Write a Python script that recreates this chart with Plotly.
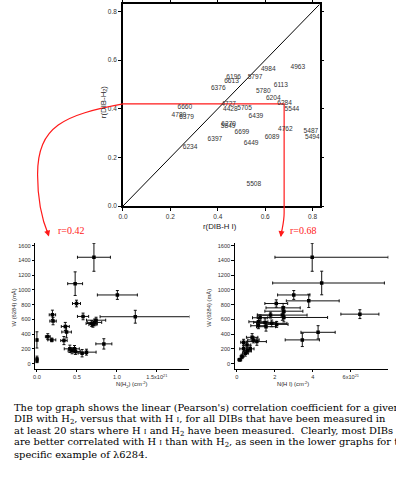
import plotly.graph_objects as go

W, H = 396, 491

# ---------------- data ----------------
dib_labels = ["4963", "4984", "6196", "5797", "6613", "6376", "6113", "5780", "6204", "6284",
              "5544", "6660", "4727", "4428", "5705", "4780", "6379", "6439", "6270", "5849",
              "6699", "4762", "5487", "5494", "6397", "6089", "6449", "6234", "5508"]
r_hi = [0.738, 0.613, 0.467, 0.557, 0.458, 0.402, 0.666, 0.592, 0.634, 0.682,
        0.713, 0.261, 0.446, 0.453, 0.513, 0.236, 0.268, 0.561, 0.446, 0.444,
        0.502, 0.685, 0.793, 0.799, 0.388, 0.629, 0.541, 0.283, 0.552]
r_h2 = [0.572, 0.564, 0.531, 0.531, 0.511, 0.486, 0.495, 0.470, 0.441, 0.421,
        0.397, 0.406, 0.418, 0.397, 0.401, 0.373, 0.365, 0.368, 0.335, 0.327,
        0.304, 0.316, 0.308, 0.283, 0.275, 0.283, 0.258, 0.243, 0.091]
example_r_hi = 0.68
example_r_h2 = 0.42

# lambda 6284 vs N(H2) [1e21 cm^-2], W [mA]
nh2 = [0.713, 0.478, 1.006, 0.495, 0.194, 0.202, 0.577, 1.23, 0.837, 0.685,
       0.72, 0.74, 0.70, 0.355, 0.371, 0.338, 0.136, 0.186, 0.0, 0.0,
       0.0, 0.412, 0.44, 0.47, 0.482, 0.565, 0.62]
nh2_err_plus = [0.206, 0.093, 0.25, 0.05, 0.04, 0.04, 0.07, 0.68, 0.10, 0.07,
                0.09, 0.12, 0.05, 0.05, 0.06, 0.04, 0.03, 0.05, 0.0, 0.0,
                0.0, 0.07, 0.05, 0.06, 0.06, 0.05, 0.12]
nh2_err_minus = [0.206, 0.093, 0.25, 0.05, 0.04, 0.04, 0.07, 0.44, 0.10, 0.07,
                 0.09, 0.12, 0.05, 0.05, 0.06, 0.04, 0.03, 0.05, 0.0, 0.0,
                 0.0, 0.07, 0.05, 0.06, 0.06, 0.05, 0.12]
w_h2 = [1443, 1085, 932, 816, 663, 578, 641, 637, 269, 545,
        560, 590, 530, 505, 430, 314, 367, 323, 323, 63,
        45, 202, 175, 202, 166, 143, 157]
w_h2_err = [190, 160, 60, 45, 63, 50, 45, 87, 70, 40,
            45, 40, 35, 55, 80, 55, 40, 25, 110, 40,
            30, 50, 40, 45, 40, 50, 40]

# lambda 6284 vs N(H I) [1e21 cm^-2], W [mA]
nhi = [3.97, 4.47, 3.0, 3.79, 6.48, 4.28, 3.45, 2.08, 2.44, 2.48,
       2.4, 2.48, 1.78, 1.23, 1.14, 1.49, 1.84, 2.1, 1.14, 1.54,
       0.81, 0.88, 1.06, 0.36, 0.54, 0.36, 0.57, 0.45, 0.71, 0.28, 0.16]
nhi_err_plus = [4.0, 3.3, 0.85, 1.6, 1.0, 0.9, 0.9, 0.6, 0.9, 1.0,
                1.3, 2.3, 0.7, 0.4, 0.5, 0.6, 0.8, 0.6, 0.4, 0.5,
                0.3, 0.3, 0.5, 0.15, 0.2, 0.2, 0.2, 0.15, 0.2, 0.1, 0.1]
nhi_err_minus = [1.96, 2.58, 0.85, 1.18, 1.0, 0.9, 0.9, 0.6, 0.9, 1.0,
                 1.3, 1.4, 0.7, 0.4, 0.5, 0.6, 0.8, 0.6, 0.4, 0.5,
                 0.3, 0.3, 0.5, 0.15, 0.2, 0.2, 0.2, 0.15, 0.2, 0.1, 0.1]
w_hi = [1443, 1094, 932, 852, 672, 426, 323, 816, 757, 712,
        659, 627, 659, 623, 569, 560, 547, 533, 515, 502,
        358, 323, 300, 291, 255, 202, 175, 143, 202, 99, 54]
w_hi_err = [190, 160, 60, 90, 60, 90, 90, 50, 60, 60,
            70, 60, 40, 40, 45, 50, 45, 40, 40, 60,
            50, 40, 50, 40, 40, 40, 40, 40, 40, 30, 20]

# ---------------- geometry (pixels) ----------------
TOP_X = (119.5, 318.7)
TOP_Y = (3.3, 206.7)
TOP_RANGE = [0, 0.83]
LL_X = (30.7, 186.7)
LR_X = (232.7, 388.3)
LOW_Y = (244.0, 370.7)
LL_XRANGE = [-0.02, 1.906]
LR_XRANGE = [-0.104, 7.98]
LOW_YRANGE = [-67, 1636]


def px(x):
    return x / W


def py(y):
    return 1 - y / H


def top_px(vx, vy):
    x = TOP_X[0] + (vx - TOP_RANGE[0]) / (TOP_RANGE[1] - TOP_RANGE[0]) * (TOP_X[1] - TOP_X[0])
    y = TOP_Y[1] - (vy - TOP_RANGE[0]) / (TOP_RANGE[1] - TOP_RANGE[0]) * (TOP_Y[1] - TOP_Y[0])
    return x, y


fig = go.Figure()

# top panel
fig.add_trace(go.Scatter(x=TOP_RANGE, y=TOP_RANGE, mode="lines",
                         line=dict(color="black", width=1), xaxis="x", yaxis="y",
                         hoverinfo="skip"))
fig.add_trace(go.Scatter(x=[0, example_r_hi, example_r_hi], y=[example_r_h2, example_r_h2, 0],
                         mode="lines", line=dict(color="#ff1a1a", width=1.2),
                         xaxis="x", yaxis="y", hoverinfo="skip"))
fig.add_trace(go.Scatter(x=r_hi, y=r_h2, mode="text", text=dib_labels,
                         textposition="middle center",
                         textfont=dict(family="Liberation Sans", size=6.6, color="#333333"),
                         xaxis="x", yaxis="y"))

err_style = dict(color="#111111", thickness=1, width=1.5)
fig.add_trace(go.Scatter(x=nh2, y=w_h2, mode="markers",
                         marker=dict(symbol="square", size=3.5, color="black"),
                         error_x=dict(type="data", array=nh2_err_plus, arrayminus=nh2_err_minus,
                                      symmetric=False, **err_style),
                         error_y=dict(type="data", array=w_h2_err, **err_style),
                         xaxis="x2", yaxis="y2"))
fig.add_trace(go.Scatter(x=nhi, y=w_hi, mode="markers",
                         marker=dict(symbol="square", size=3.5, color="black"),
                         error_x=dict(type="data", array=nhi_err_plus, arrayminus=nhi_err_minus,
                                      symmetric=False, **err_style),
                         error_y=dict(type="data", array=w_hi_err, **err_style),
                         xaxis="x3", yaxis="y3"))

tickfont_top = dict(family="Liberation Sans", size=6.5, color="#333333")
tickfont_low = dict(family="Liberation Sans", size=5.6, color="#333333")
top_ticks = [0, 0.2, 0.4, 0.6, 0.8]
top_common = dict(range=TOP_RANGE, showline=True, linewidth=1.6, linecolor="black",
                  mirror="allticks", ticks="outside", ticklen=3, tickwidth=1, tickcolor="black",
                  tickvals=top_ticks, ticktext=["0.0", "0.2", "0.4", "0.6", "0.8"],
                  tickfont=tickfont_top, showgrid=False, zeroline=False, fixedrange=True)
low_common = dict(showline=True, linewidth=1, linecolor="black", ticks="outside", ticklen=2.5,
                  tickwidth=1, tickcolor="black", tickfont=tickfont_low, showgrid=False,
                  zeroline=False, mirror=False)
w_ticks = [0, 200, 400, 600, 800, 1000, 1200, 1400, 1600]

fig.update_layout(
    width=W, height=H, margin=dict(l=0, r=0, t=0, b=0),
    paper_bgcolor="white", plot_bgcolor="white", showlegend=False,
    xaxis=dict(domain=[px(TOP_X[0]), px(TOP_X[1])], anchor="y", **top_common),
    yaxis=dict(domain=[py(TOP_Y[1]), py(TOP_Y[0])], anchor="x", **top_common),
    xaxis2=dict(domain=[px(LL_X[0]), px(LL_X[1])], anchor="y2", range=LL_XRANGE,
                tickvals=[0, 0.5, 1.0, 1.5], ticktext=["0.0", "0.5", "1.0", "1.5x10<sup>21</sup>"],
                **low_common),
    yaxis2=dict(domain=[py(LOW_Y[1]), py(LOW_Y[0])], anchor="x2", range=LOW_YRANGE,
                tickvals=w_ticks, **low_common),
    xaxis3=dict(domain=[px(LR_X[0]), px(LR_X[1])], anchor="y3", range=LR_XRANGE,
                tickvals=[0, 2, 4, 6], ticktext=["0", "2", "4", "6x10<sup>21</sup>"],
                **low_common),
    yaxis3=dict(domain=[py(LOW_Y[1]), py(LOW_Y[0])], anchor="x3", range=LOW_YRANGE,
                tickvals=w_ticks, **low_common),
)

# red connectors
red = "#ff1a1a"
sx, sy = top_px(0, example_r_h2)
left_path = [(sx, sy), (60, sy + 11), (33, sy + 22), (33, 175), (33, 205), (38, 222), (44, 236)]
ex, ey = top_px(example_r_hi, 0)
right_path = [(ex, ey), (ex, ey + 7), (ex, ey + 16), (ex - 2, ey + 22), (ex - 3.3, 237)]


def to_paper_path(pts, first_line=False):
    s = "M %.4f,%.4f " % (px(pts[0][0]), py(pts[0][1]))
    rest = pts[1:]
    if first_line:
        s += "L %.4f,%.4f " % (px(rest[0][0]), py(rest[0][1]))
        rest = rest[1:]
    for i in range(0, len(rest), 3):
        c = rest[i:i + 3]
        s += "C " + " ".join("%.4f,%.4f" % (px(a), py(b)) for a, b in c) + " "
    return s.strip()


shapes = [
    dict(type="path", xref="paper", yref="paper", path=to_paper_path(left_path),
         line=dict(color=red, width=1.2)),
    dict(type="path", xref="paper", yref="paper", path=to_paper_path(right_path, first_line=True),
         line=dict(color=red, width=1.2)),
]
fig.update_layout(shapes=shapes)

ann = []
# arrowheads
ann.append(dict(x=px(44.5), y=py(237.5), xref="paper", yref="paper", text="", showarrow=True,
                ax=-2.5, ay=-8, arrowhead=2, arrowsize=1, arrowwidth=1.2, arrowcolor=red))
ann.append(dict(x=px(ex - 3.4), y=py(238), xref="paper", yref="paper", text="", showarrow=True,
                ax=1, ay=-8, arrowhead=2, arrowsize=1, arrowwidth=1.2, arrowcolor=red))
# r labels
ann.append(dict(x=px(52), y=py(231), xref="paper", yref="paper", xanchor="left", yanchor="middle",
                text="r=%.2f" % example_r_h2, showarrow=False,
                font=dict(family="Liberation Serif", size=10, color=red)))
ann.append(dict(x=px(287), y=py(231), xref="paper", yref="paper", xanchor="left", yanchor="middle",
                text="r=%.2f" % example_r_hi, showarrow=False,
                font=dict(family="Liberation Serif", size=10, color=red)))

title_top = dict(family="Liberation Sans", size=7.8, color="#222222")
title_low = dict(family="Liberation Sans", size=5.8, color="#222222")
ann.append(dict(x=px(93), y=py(84), xref="paper", yref="paper", text="r(DIB-H<sub>2</sub>)",
                textangle=-90, showarrow=False, font=title_top))
ann.append(dict(x=px(218), y=py(227), xref="paper", yref="paper", text="r(DIB-H I)",
                showarrow=False, font=title_top))
ann.append(dict(x=px(5), y=py(309), xref="paper", yref="paper", text="W (6284) (mÅ)",
                textangle=-90, showarrow=False, font=title_low))
ann.append(dict(x=px(207), y=py(309), xref="paper", yref="paper", text="W (6284) (mÅ)",
                textangle=-90, showarrow=False, font=title_low))
ann.append(dict(x=px(110), y=py(380), xref="paper", yref="paper", yanchor="top",
                text="N(H<sub>2</sub>) (cm<sup>-2</sup>)", showarrow=False, font=title_low))
ann.append(dict(x=px(310), y=py(380), xref="paper", yref="paper", yanchor="top",
                text="N(H I) (cm<sup>-2</sup>)", showarrow=False, font=title_low))

# caption
SI = "<span style='font-size:7px'>I</span>"
caption = [
    "The top graph shows the linear (Pearson's) correlation coefficient for a given",
    "DIB with H<sub>2</sub>, versus that with H " + SI + ", for all DIBs that have been measured in",
    "at least 20 stars where H " + SI + " and H<sub>2</sub> have been measured.  Clearly, most DIBs",
    "are better correlated with H " + SI + " than with H<sub>2</sub>, as seen in the lower graphs for the",
    "specific example of λ6284.",
]
for i, line in enumerate(caption):
    ann.append(dict(x=px(7), y=py(410 + i * 11.8), xref="paper", yref="paper",
                    xanchor="left", yanchor="middle", text=line, showarrow=False,
                    font=dict(family="DejaVu Serif", size=9.9, color="black")))

fig.update_layout(annotations=ann)
fig.write_html("out.html")
